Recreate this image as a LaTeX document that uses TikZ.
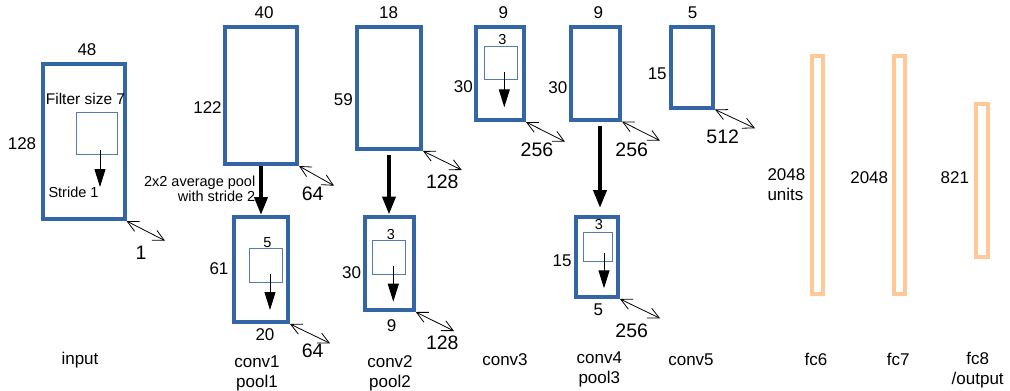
\documentclass[tikz,border=0pt]{standalone}
\usepackage{fontspec}
\setmainfont{Liberation Sans}
\usetikzlibrary{arrows.meta}
\definecolor{cblue}{RGB}{52,101,164}
\definecolor{fcor}{RGB}{255,200,150}
\tikzset{
  cbox/.style={draw=cblue, line width=4pt, inner sep=0pt},
  fcbox/.style={draw=fcor, line width=4pt, inner sep=0pt},
  filt/.style={draw=cblue!85, line width=0.9pt, inner sep=0pt, outer sep=0pt},
  bigarr/.style={line width=4pt, -{Triangle[length=18pt,width=13pt]}},
  smallarr/.style={line width=1pt, -{Triangle[length=18pt,width=11pt]}},
  deptharr/.style={line width=0.8pt, {Straight Barb[length=11pt,width=11pt]}-{Straight Barb[length=11pt,width=11pt]}},
  lab/.style={inner sep=0pt, font=\fontsize{17}{20}\selectfont, align=center},
  biglab/.style={inner sep=0pt, font=\fontsize{19.5}{22}\selectfont},
  smalllab/.style={inner sep=0pt, font=\fontsize{14.5}{15}\selectfont, align=right},
}
\begin{document}
\begin{tikzpicture}[x=1pt, y=-1pt]
\useasboundingbox (0,0) rectangle (1010,391);

% ---------- input ----------
\node[cbox, minimum width=81.5pt, minimum height=155pt] (in) at (83.75,141.5) {};
\node[filt, minimum width=41pt, minimum height=42pt] (sq0) at (96.5,133) {};
\coordinate (a0s) at (100,150); \coordinate (a0e) at (100,187);
\draw[smallarr] (a0s) -- (a0e);
\node[smalllab, font=\fontsize{15.5}{16}\selectfont] (fs) at (85.5,99) {Filter size 7};
\node[smalllab] (st) at (73.5,192) {Stride 1};
\node[lab] (l48) at (87,50) {48};
\node[lab] (l128) at (22,144) {128};
\node[biglab] (l1) at (141,253) {1};
\coordinate (d0) at (165,240.7);
\draw[deptharr] (in.south east) -- (d0);
\node[lab] (nin) at (80,360) {input};

% ---------- conv1 / pool1 ----------
\node[cbox, minimum width=72pt, minimum height=137pt] (c1) at (261,95.5) {};
\node[lab] (l40) at (264,12.3) {40};
\node[lab] (l122) at (207.5,107.3) {122};
\node[biglab] (l64a) at (312.7,194) {64};
\coordinate (d1) at (334,185.7);
\draw[deptharr] (c1.south east) -- (d1);
\node[smalllab, anchor=east] (pooltxt) at (255.5,188.5) {2x2 average pool\\with stride 2};
\node[cbox, minimum width=54pt, minimum height=105pt] (p1) at (261,269.5) {};
\draw[bigarr] (c1.south) -- (p1.north);
\node[filt, minimum width=33pt, minimum height=34pt] (sq1) at (265.5,265) {};
\coordinate (a1s) at (270,274); \coordinate (a1e) at (270,310);
\draw[smallarr] (a1s) -- (a1e);
\node[smalllab] (l5a) at (267.3,242.3) {5};
\node[lab] (l61) at (219,268.3) {61};
\node[lab] (l20) at (265,334.3) {20};
\node[biglab] (l64b) at (312.7,350.7) {64};
\coordinate (d2) at (330,343.3);
\draw[deptharr] (p1.south east) -- (d2);
\node[lab] (nc1) at (257,373.3) {conv1\\pool1};

% ---------- conv2 / pool2 ----------
\node[cbox, minimum width=64pt, minimum height=122pt] (c2) at (389,88) {};
\node[lab] (l18) at (388.7,12.3) {18};
\node[lab] (l59) at (343.3,99.3) {59};
\node[biglab] (l128a) at (442.3,181.7) {128};
\coordinate (d3) at (461.7,170);
\draw[deptharr] (c2.south east) -- (d3);
\node[cbox, minimum width=48.5pt, minimum height=93.5pt] (p2) at (389.5,263.25) {};
\draw[bigarr, shorten <=4pt] (c2.south) -- (c2.south |- p2.north);
\node[filt, minimum width=33pt, minimum height=34pt] (sq2) at (389.3,257) {};
\coordinate (a2s) at (393.3,266); \coordinate (a2e) at (393.3,301.7);
\draw[smallarr] (a2s) -- (a2e);
\node[smalllab] (l3a) at (391,234.3) {3};
\node[lab] (l30a) at (351.7,272.7) {30};
\node[lab] (l9a) at (391.7,326) {9};
\node[biglab] (l128b) at (442.3,342.7) {128};
\coordinate (d4) at (454,331);
\draw[deptharr] (p2.south east) -- (d4);
\node[lab] (nc2) at (390,373.3) {conv2\\pool2};

% ---------- conv3 ----------
\node[cbox, minimum width=48pt, minimum height=93pt] (c3) at (500,73.5) {};
\node[filt, minimum width=33pt, minimum height=33pt] (sq3) at (500.7,63) {};
\coordinate (a3s) at (504.3,71.7); \coordinate (a3e) at (504.3,107.3);
\draw[smallarr] (a3s) -- (a3e);
\node[smalllab] (l3b) at (502.3,40) {3};
\node[lab] (l30b) at (463.3,86.7) {30};
\node[lab] (l9b) at (503.3,12.3) {9};
\node[biglab] (l256a) at (537,149.3) {256};
\coordinate (d5) at (565,141.7);
\draw[deptharr] (c3.south east) -- (d5);
\node[lab] (nc3) at (505,359.3) {conv3};

% ---------- conv4 / pool3 ----------
\node[cbox, minimum width=49pt, minimum height=92.5pt] (c4) at (595.5,73.25) {};
\node[lab] (l9c) at (598.3,12.3) {9};
\node[lab] (l30c) at (557.8,87.3) {30};
\node[biglab] (l256b) at (631.7,149.3) {256};
\coordinate (d6) at (660,140.7);
\draw[deptharr] (c4.south east) -- (d6);
\node[cbox, minimum width=42pt, minimum height=80pt] (p3) at (597,257) {};
\draw[bigarr, shorten <=4pt, shorten >=7pt] ([xshift=4.5pt]c4.south) -- ([xshift=4.5pt]c4.south |- p3.north);
\node[filt, minimum width=29.4pt, minimum height=29.4pt] (sq4) at (598,247) {};
\coordinate (a4s) at (604,253.3); \coordinate (a4e) at (604,288.3);
\draw[smallarr] (a4s) -- (a4e);
\node[smalllab] (l3c) at (599,225) {3};
\node[lab] (l15a) at (562,260.7) {15};
\node[lab] (l5b) at (598.3,309.3) {5};
\node[biglab] (l256c) at (631.7,330.7) {256};
\coordinate (d7) at (660,318.3);
\draw[deptharr] (p3.south east) -- (d7);
\node[lab] (nc4) at (599.3,369.3) {conv4\\pool3};

% ---------- conv5 ----------
\node[cbox, minimum width=42pt, minimum height=80.5pt] (c5) at (692,67.25) {};
\node[lab] (l5c) at (692.7,12.3) {5};
\node[lab] (l15b) at (657.2,74) {15};
\node[biglab] (l512) at (722.7,136.7) {512};
\coordinate (d8) at (755,128.3);
\draw[deptharr] (c5.south east) -- (d8);
\node[lab] (nc5) at (691,359.3) {conv5};

% ---------- fully connected ----------
\node[fcbox, minimum width=11pt, minimum height=238.5pt] (f6) at (817,174.75) {};
\node[fcbox, minimum width=11pt, minimum height=238.5pt] (f7) at (899.5,174.75) {};
\node[fcbox, minimum width=11.5pt, minimum height=153pt] (f8) at (981.75,180.5) {};
\node[lab, align=left, anchor=north west] (l2048a) at (767.3,168.5) {2048\\units};
\node[lab] (l2048b) at (869.2,177.3) {2048};
\node[lab] (l821) at (954.8,177.3) {821};
\node[lab] (nf6) at (816,359.3) {fc6};
\node[lab] (nf7) at (898.3,359.3) {fc7};
\node[lab] (nf8) at (977.7,369.7) {fc8\\/output};
\end{tikzpicture}
\end{document}
